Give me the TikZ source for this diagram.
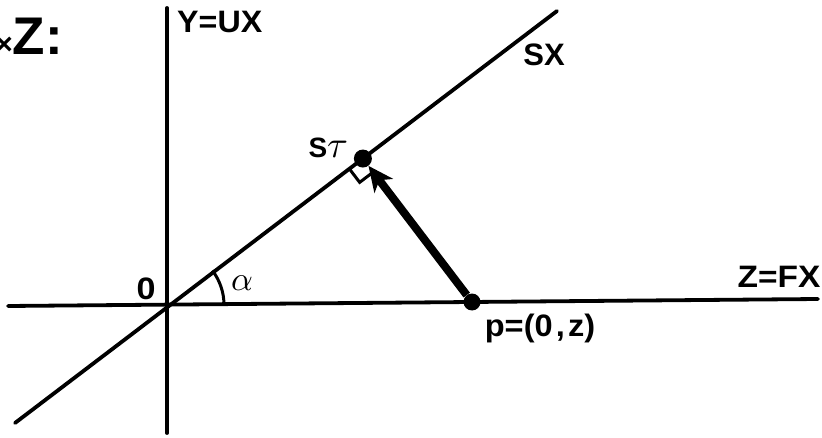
\documentclass[tikz,border=0pt]{standalone}
\usepackage{graphicx}
\usepackage{unicode-math}
\setmainfont{Liberation Sans}
\setmathfont{Latin Modern Math}
\usetikzlibrary{arrows.meta,calc}
\begin{document}
\begin{tikzpicture}[x=1pt,y=1pt,
  axis/.style={line width=3.8pt,line cap=round},
  dot/.style={circle,fill=black,inner sep=0pt,minimum size=18pt},
  lbl/.style={font=\fontsize{31}{31}\selectfont\bfseries,inner sep=0pt},
]
\useasboundingbox (0,0) rectangle (822,437);
% axes
\coordinate (H1) at (8,131);
\coordinate (H2) at (818,138);
\coordinate (V1) at (167,4);
\coordinate (V2) at (167,429);
\coordinate (D1) at (15,14);
\coordinate (D2) at (557,426);
\coordinate (O) at (167,132);
\coordinate (P) at (472,135);
\coordinate (S) at ($(D1)!(P)!(D2)$);
\draw[axis] (H1) -- (H2);
\draw[axis] (V1) -- (V2);
\draw[axis] (D1) -- (D2);
% angle arc
\draw[line width=3pt] ($(O)+(57,0)$) arc[start angle=0,end angle=37.2,radius=57pt];
% right angle mark
\coordinate (RA) at ($(S)!17pt!(D1)$);
\coordinate (RB) at ($(S)!17pt!(P)$);
\coordinate (RC) at ($(RA)+(RB)-(S)$);
\draw[line width=3pt] (RA) -- (RC) -- (RB);
% points and vector
\node[dot] (Sd) at (S) {};
\node[dot,minimum size=17pt] (Pd) at (P) {};
\draw[line width=8pt,-{Stealth[length=25pt,width=23pt,inset=7pt]}] (Pd) -- (Sd);
% labels
\node[font=\fontsize{53}{53}\selectfont\bfseries,inner sep=0pt,anchor=east] (title) at (63,401) {{\fontsize{30}{30}\selectfont ×}Z:};
\node[lbl,anchor=west] (yl) at (177,415.5) {\scalebox{1.04}[1]{Y=UX}};
\node[lbl] (sx) at (544,382) {SX};
\node[inner sep=0pt,anchor=east] (sl) at (348,289) {\fontsize{28}{28}\selectfont\bfseries S\fontsize{38}{38}\selectfont$\tau$};
\node[inner sep=0pt] (ol) at (146,148.5) {\fontsize{31}{31}\selectfont\bfseries\scalebox{1.1}[1]{0}};
\node[inner sep=0pt] (al) at (242,154) {\fontsize{34}{34}\selectfont$\alpha$};
\node[lbl] (zl) at (779,160) {\scalebox{1.08}[1]{Z=FX}};
\node[lbl] (pl) at (540,109) {\scalebox{1.05}[1]{p=(0{\kern3pt},{\kern3pt}z)}};
\end{tikzpicture}
\end{document}
